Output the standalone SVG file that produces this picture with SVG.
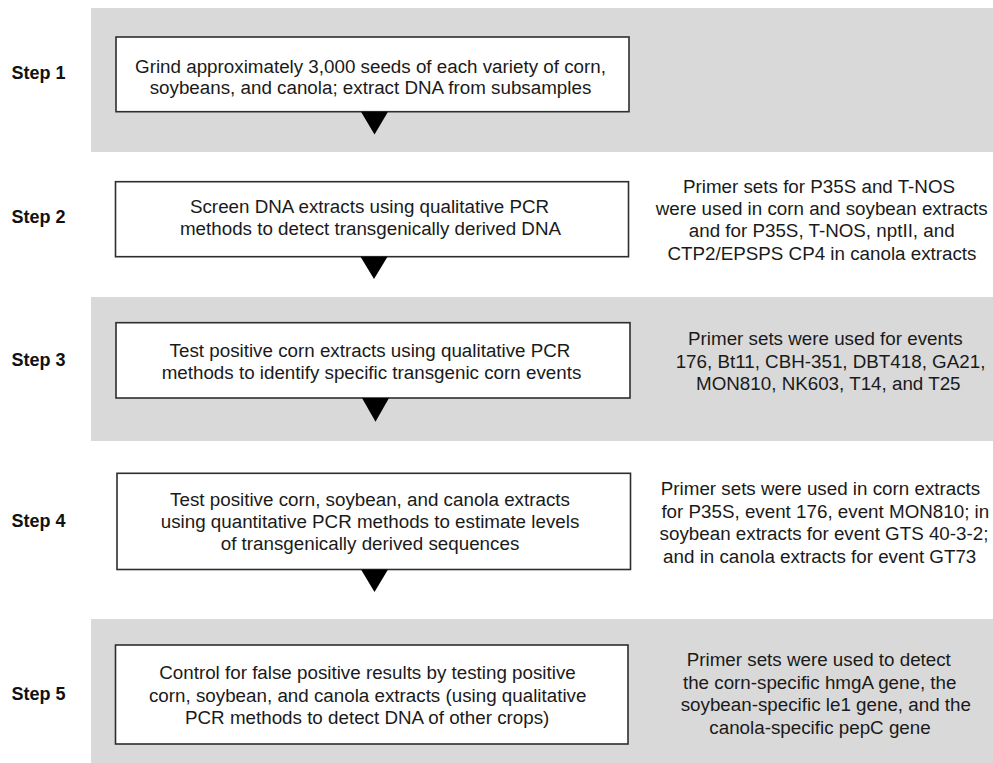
<svg xmlns="http://www.w3.org/2000/svg" width="993" height="763" viewBox="0 0 993 763">
<style>
.band{fill:#d9d9d9}
.box{fill:#ffffff;stroke:#2e2e2e;stroke-width:1.6}
.tri{fill:#000000}
.step{font-family:"Liberation Sans",Arial,Helvetica,sans-serif;font-size:18px;font-weight:bold;fill:#111;text-anchor:middle}
.t{font-family:"Liberation Sans",Arial,Helvetica,sans-serif;font-size:18.8px;fill:#1a1a1a;text-anchor:middle}
</style>
<rect width="993" height="763" fill="#ffffff"/>
<g id="bands">
<rect class="band" x="91" y="8" width="902" height="144"/>
<rect class="band" x="91" y="297" width="902" height="144"/>
<rect class="band" x="91" y="619" width="902" height="144"/>
</g>
<g id="step1">
<text class="step" x="38.5" y="79">Step 1</text>
<rect class="box" x="116" y="37" width="513" height="74.7"/>
<text class="t" x="370.5" y="72.7">Grind approximately 3,000 seeds of each variety of corn,</text>
<text class="t" x="370.5" y="94.3">soybeans, and canola; extract DNA from subsamples</text>
</g>
<g id="step2">
<text class="step" x="38.5" y="223">Step 2</text>
<rect class="box" x="115.5" y="181.7" width="513" height="75"/>
<text class="t" x="369.5" y="213.3">Screen DNA extracts using qualitative PCR</text>
<text class="t" x="370.5" y="235">methods to detect transgenically derived DNA</text>
<text class="t" x="819" y="192.7">Primer sets for P35S and T-NOS</text>
<text class="t" x="821.7" y="215">were used in corn and soybean extracts</text>
<text class="t" x="821.7" y="237.3">and for P35S, T-NOS, nptII, and</text>
<text class="t" x="822" y="259.5">CTP2/EPSPS CP4 in canola extracts</text>
</g>
<g id="step3">
<text class="step" x="38.5" y="365.5">Step 3</text>
<rect class="box" x="116" y="322.7" width="514" height="75.3"/>
<text class="t" x="370" y="357.3">Test positive corn extracts using qualitative PCR</text>
<text class="t" x="371.5" y="379">methods to identify specific transgenic corn events</text>
<text class="t" x="825.3" y="345">Primer sets were used for events</text>
<text class="t" x="830.5" y="367.5">176, Bt11, CBH-351, DBT418, GA21,</text>
<text class="t" x="828.3" y="390">MON810, NK603, T14, and T25</text>
</g>
<g id="step4">
<text class="step" x="38.5" y="527">Step 4</text>
<rect class="box" x="117" y="473.3" width="513.5" height="96.2"/>
<text class="t" x="370" y="506">Test positive corn, soybean, and canola extracts</text>
<text class="t" x="370" y="528">using quantitative PCR methods to estimate levels</text>
<text class="t" x="370" y="550">of transgenically derived sequences</text>
<text class="t" x="820.5" y="495">Primer sets were used in corn extracts</text>
<text class="t" x="825.3" y="517.5">for P35S, event 176, event MON810; in</text>
<text class="t" x="824" y="540">soybean extracts for event GTS 40-3-2;</text>
<text class="t" x="819.7" y="562.5">and in canola extracts for event GT73</text>
</g>
<g id="step5">
<text class="step" x="38.5" y="700">Step 5</text>
<rect class="box" x="115.5" y="645" width="512.5" height="99"/>
<text class="t" x="367.5" y="679.3">Control for false positive results by testing positive</text>
<text class="t" x="367.7" y="701.7">corn, soybean, and canola extracts (using qualitative</text>
<text class="t" x="367.2" y="724">PCR methods to detect DNA of other crops)</text>
<text class="t" x="818.8" y="666">Primer sets were used to detect</text>
<text class="t" x="819.7" y="688.5">the corn-specific hmgA gene, the</text>
<text class="t" x="825.8" y="711">soybean-specific le1 gene, and the</text>
<text class="t" x="820" y="733.5">canola-specific pepC gene</text>
</g>
<g id="connectors">
<polygon class="tri" points="361,111.7 388,111.7 374.5,134.5"/>
<polygon class="tri" points="360.5,256.7 387.5,256.7 374,279"/>
<polygon class="tri" points="362,398 389,398 375.5,421.7"/>
<polygon class="tri" points="361,569.5 388,569.5 374.5,592"/>
</g>
</svg>
